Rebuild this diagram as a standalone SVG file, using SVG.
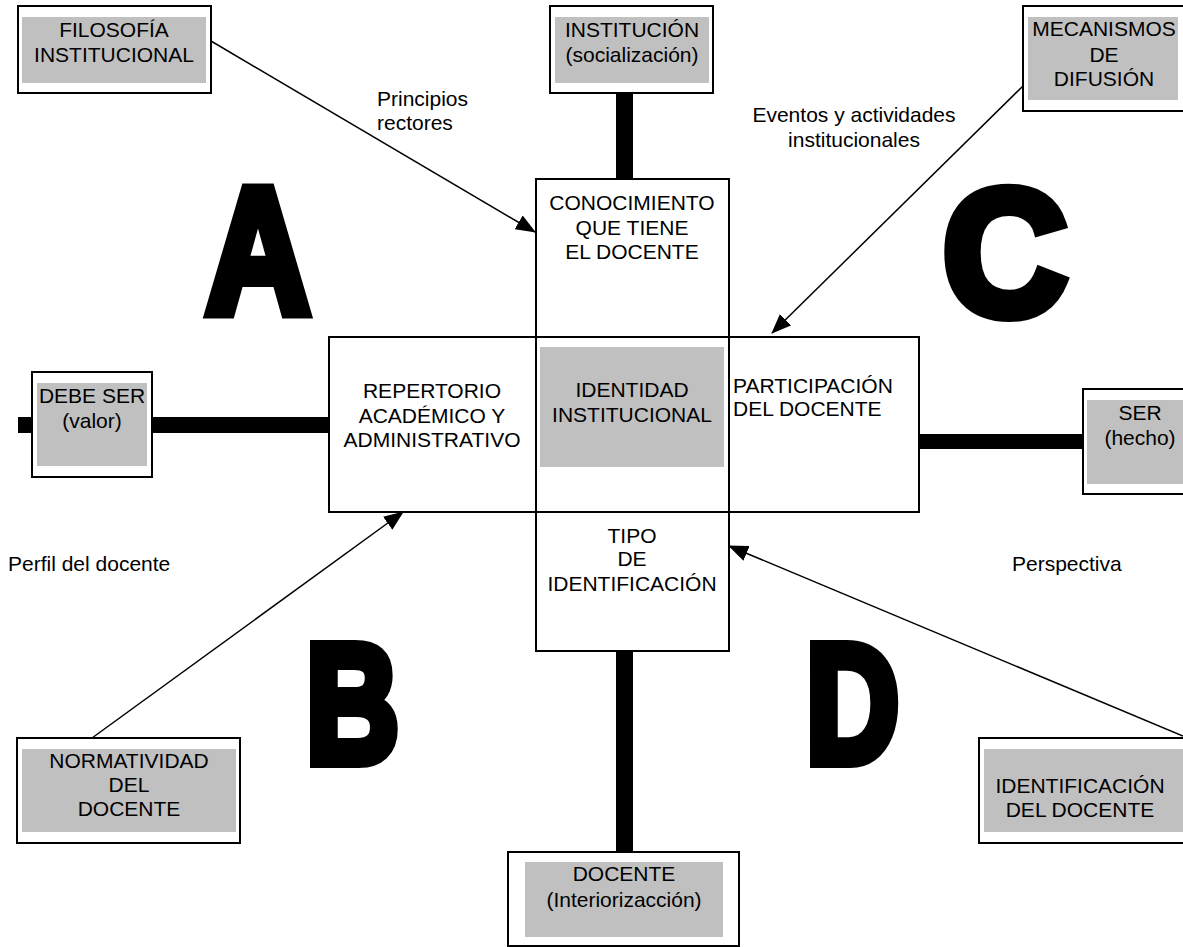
<svg xmlns="http://www.w3.org/2000/svg" width="1183" height="947" viewBox="0 0 1183 947">
<style>
.box{fill:#fff;stroke:#000;stroke-width:2}
.frame{fill:none;stroke:#000;stroke-width:2}
.gray{fill:#c0c0c0}
.t{font-family:"Liberation Sans",Arial,sans-serif;font-size:21px;fill:#000;text-anchor:middle}
.l{font-family:"Liberation Sans",Arial,sans-serif;font-size:21px;fill:#000}
.big{font-family:"Liberation Sans",Arial,sans-serif;font-weight:bold;fill:#000;stroke:#000;stroke-width:12;stroke-linejoin:miter}
.bar{fill:#000}
.arr{stroke:#000;stroke-width:1.5;fill:none;marker-end:url(#ah)}
</style>
<defs>
<marker id="ah" markerUnits="userSpaceOnUse" markerWidth="20" markerHeight="16" viewBox="0 0 20 16" refX="19" refY="8" orient="auto">
<path d="M0,0 L20,8 L0,16 Z" fill="#000"/>
</marker>
</defs>
<rect width="1183" height="947" fill="#fff"/>

<g id="bars">
<rect class="bar" x="616" y="93" width="17" height="86"/>
<rect class="bar" x="616" y="651" width="17" height="201"/>
<rect class="bar" x="18" y="417" width="15" height="16"/>
<rect class="bar" x="152" y="417" width="177" height="16"/>
<rect class="bar" x="919" y="434" width="164" height="15"/>
</g>

<g id="center">
<rect class="box" x="329" y="337" width="590" height="175"/>
<rect class="box" x="536" y="179" width="193" height="472"/>
<rect class="gray" x="540" y="347" width="184" height="120"/>
<rect class="frame" x="329" y="337" width="590" height="175"/>
<rect class="frame" x="536" y="179" width="193" height="472"/>
</g>

<g id="conocimiento">
<text class="t" x="632" y="210">CONOCIMIENTO</text>
<text class="t" x="632" y="235">QUE TIENE</text>
<text class="t" x="632" y="259">EL DOCENTE</text>
</g>
<g id="repertorio">
<text class="t" x="432" y="398">REPERTORIO</text>
<text class="t" x="432" y="423">ACADÉMICO Y</text>
<text class="t" x="432" y="447">ADMINISTRATIVO</text>
</g>
<g id="identidad">
<text class="t" x="632" y="397">IDENTIDAD</text>
<text class="t" x="632" y="422">INSTITUCIONAL</text>
</g>
<g id="participacion">
<text class="l" x="733" y="393">PARTICIPACIÓN</text>
<text class="l" x="733" y="416">DEL DOCENTE</text>
</g>
<g id="tipo">
<text class="t" x="632" y="543">TIPO</text>
<text class="t" x="632" y="566">DE</text>
<text class="t" x="632" y="591">IDENTIFICACIÓN</text>
</g>

<g id="filosofia">
<rect class="box" x="18" y="6" width="193" height="87"/>
<rect class="gray" x="22" y="17" width="184" height="66"/>
<text class="t" x="114" y="37">FILOSOFÍA</text>
<text class="t" x="114" y="62">INSTITUCIONAL</text>
</g>
<g id="institucion">
<rect class="box" x="550" y="6" width="163" height="87"/>
<rect class="gray" x="555" y="17" width="154" height="66"/>
<text class="t" x="632" y="37">INSTITUCIÓN</text>
<text class="t" x="632" y="62">(socialización)</text>
</g>
<g id="mecanismos">
<rect class="box" x="1023" y="6" width="162" height="105"/>
<rect class="gray" x="1028" y="17" width="150" height="83"/>
<text class="t" x="1104" y="36">MECANISMOS</text>
<text class="t" x="1104" y="62">DE</text>
<text class="t" x="1104" y="86">DIFUSIÓN</text>
</g>
<g id="debeser">
<rect class="box" x="32" y="372" width="120" height="105"/>
<rect class="gray" x="37" y="383" width="110" height="83"/>
<text class="t" x="92" y="403">DEBE SER</text>
<text class="t" x="92" y="428">(valor)</text>
</g>
<g id="ser">
<rect class="box" x="1083" y="389" width="102" height="105"/>
<rect class="gray" x="1087" y="400" width="96" height="84"/>
<text class="t" x="1140" y="420">SER</text>
<text class="t" x="1140" y="445">(hecho)</text>
</g>
<g id="normatividad">
<rect class="box" x="17" y="738" width="223" height="105"/>
<rect class="gray" x="22" y="749" width="214" height="83"/>
<text class="t" x="129" y="768">NORMATIVIDAD</text>
<text class="t" x="129" y="792">DEL</text>
<text class="t" x="129" y="816">DOCENTE</text>
</g>
<g id="identificacion">
<rect class="box" x="979" y="738" width="206" height="105"/>
<rect class="gray" x="984" y="749" width="199" height="83"/>
<text class="t" x="1080" y="793">IDENTIFICACIÓN</text>
<text class="t" x="1080" y="817">DEL DOCENTE</text>
</g>
<g id="docente">
<rect class="box" x="508" y="852" width="231" height="94"/>
<rect class="gray" x="525" y="862" width="198" height="75"/>
<text class="t" x="624" y="881">DOCENTE</text>
<text class="t" x="624" y="907">(Interiorizacción)</text>
</g>

<g id="connectors">
<line class="arr" x1="211" y1="41" x2="535" y2="232"/>
<line class="arr" x1="1023" y1="86" x2="772" y2="333"/>
<line class="arr" x1="92" y1="738" x2="403" y2="512"/>
<line class="arr" x1="1183" y1="736" x2="729" y2="546"/>
</g>

<g id="labels">
<text class="l" x="377" y="106">Principios</text>
<text class="l" x="377" y="130">rectores</text>
<text class="t" x="854" y="122">Eventos y actividades</text>
<text class="t" x="854" y="147">institucionales</text>
<text class="l" x="8" y="571">Perfil del  docente</text>
<text class="l" x="1012" y="571">Perspectiva</text>
</g>

<g id="letters">
<text class="big" x="206" y="312" font-size="179" textLength="104" lengthAdjust="spacingAndGlyphs">A</text>
<text class="big" x="943" y="314" font-size="179" textLength="124" lengthAdjust="spacingAndGlyphs">C</text>
<text class="big" x="306" y="762" font-size="168" textLength="93" lengthAdjust="spacingAndGlyphs">B</text>
<text class="big" x="806" y="762" font-size="168" textLength="93" lengthAdjust="spacingAndGlyphs">D</text>
</g>
</svg>
